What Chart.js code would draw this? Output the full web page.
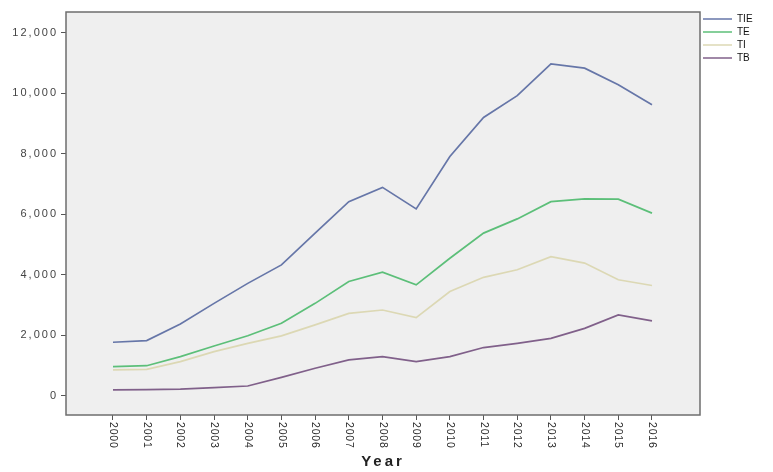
<!DOCTYPE html>
<html>
<head>
<meta charset="utf-8">
<script src="https://cdn.jsdelivr.net/npm/chart.js@4.4.1/dist/chart.umd.min.js"></script>
<style>
html,body{margin:0;padding:0;background:#ffffff;}
#wrap{width:773px;height:472px;}
</style>
</head>
<body>
<div id="wrap"><canvas id="c" width="773" height="472"></canvas></div>
<script>
// ---- data ----
const years = [2000,2001,2002,2003,2004,2005,2006,2007,2008,2009,2010,2011,2012,2013,2014,2015,2016];
const tie = [1775,1830,2380,3060,3720,4330,5380,6420,6890,6180,7910,9200,9920,10970,10830,10280,9620];
const te  = [970,1000,1300,1650,1990,2400,3060,3780,4090,3670,4550,5380,5850,6420,6510,6500,6040];
const ti  = [860,880,1135,1465,1740,1985,2350,2730,2840,2590,3450,3920,4170,4600,4390,3840,3650];
const tb  = [200,210,230,275,330,615,915,1190,1300,1135,1300,1600,1740,1905,2235,2680,2480];
const seriesNames = ['TIE','TE','TI','TB'];
const yTickValues = [0,2000,4000,6000,8000,10000,12000];

const FONT = "'Liberation Sans', Arial, sans-serif";
const colors = ['#6676a8','#5cbf79','#dcd8b4','#80608a'];

// legend width so the plot frame ends where the reference's does
const mc = document.createElement('canvas').getContext('2d');
mc.font = "10px " + FONT;
const maxText = Math.max(...seriesNames.map(t => mc.measureText(t).width));
const legendW = 3 + 29 + 5 + maxText + 10;
const padRight = Math.max(0, 73 - legendW);

// ---- custom scales (letter spacing, labels rotated clockwise) ----
class SpacedYScale extends Chart.LinearScale {
  drawLabels(area) {
    const ctx = this.ctx; ctx.save(); ctx.letterSpacing = '2px';
    super.drawLabels(area); ctx.restore();
  }
}
SpacedYScale.id = 'spacedY';

class DownXScale extends Chart.LinearScale {
  _getXAxisLabelAlignment() { return 'left'; }
  drawLabels(area) {
    const ctx = this.ctx; ctx.save(); ctx.letterSpacing = '0.8px';
    super.drawLabels(area); ctx.restore();
  }
  drawTitle() {
    const ctx = this.ctx; ctx.save(); ctx.letterSpacing = '3px';
    super.drawTitle(); ctx.restore();
  }
}
DownXScale.id = 'downX';
Chart.register(SpacedYScale, DownXScale);

const plotFrame = {
  id: 'plotFrame',
  afterLayout(chart) {
    if (chart.legend) { chart.legend.top -= 1; chart.legend.bottom -= 1; }
  },
  beforeDraw(chart) {
    const {ctx, chartArea: a} = chart;
    ctx.save();
    ctx.fillStyle = '#efefef';
    ctx.fillRect(a.left, a.top, a.right - a.left, a.bottom - a.top);
    ctx.restore();
  },
  afterDatasetsDraw(chart) {
    const {ctx, chartArea: a} = chart;
    ctx.save();
    ctx.strokeStyle = '#6e6e6e';
    ctx.lineWidth = 1.5;
    ctx.strokeRect(a.left, a.top, a.right - a.left, a.bottom - a.top);
    ctx.restore();
  }
};

const seriesValues = [tie, te, ti, tb];
const datasets = seriesNames.map((name, i) => ({
  label: name,
  data: years.map((y, j) => ({x: y, y: seriesValues[i][j]})),
  borderColor: colors[i],
  backgroundColor: colors[i],
  borderWidth: 1.7,
  pointRadius: 0,
  tension: 0,
  fill: false
}));

new Chart(document.getElementById('c'), {
  type: 'line',
  data: { datasets },
  options: {
    responsive: false,
    animation: false,
    devicePixelRatio: 1,
    layout: { padding: { left: 0, top: 12, right: padRight, bottom: 0 } },
    plugins: {
      tooltip: { enabled: false },
      legend: {
        position: 'right',
        align: 'start',
        fullSize: false,
        labels: {
          usePointStyle: true,
          pointStyle: 'line',
          pointStyleWidth: 29,
          boxHeight: 10,
          padding: 3,
          color: '#111',
          font: { family: FONT, size: 10 }
        }
      }
    },
    scales: {
      x: {
        type: 'downX',
        min: 1998.605,
        max: 2017.425,
        afterBuildTicks: s => { s.ticks = years.map(v => ({value: v})); },
        afterFit: s => { s.height = 57; },
        grid: { display: true, drawOnChartArea: false, drawTicks: true, tickLength: 5, color: '#555', lineWidth: 1 },
        border: { display: false },
        ticks: {
          minRotation: -90, maxRotation: -90, autoSkip: false, padding: 2,
          color: '#2a2a2a', font: { family: FONT, size: 10.5 },
          callback: v => String(v)
        },
        title: {
          display: true, text: 'Year', color: '#222',
          font: { family: FONT, size: 15, weight: 'bold' },
          padding: { top: 0, bottom: 1 }
        }
      },
      y: {
        type: 'spacedY',
        min: -628,
        max: 12684,
        afterBuildTicks: s => { s.ticks = yTickValues.map(v => ({value: v})); },
        afterFit: s => { s.width = 66; },
        grid: { display: true, drawOnChartArea: false, drawTicks: true, tickLength: 5, color: '#555', lineWidth: 1 },
        border: { display: false },
        ticks: {
          padding: 3, color: '#444', font: { family: FONT, size: 11 },
          callback: v => v.toLocaleString('en-US')
        }
      }
    }
  },
  plugins: [plotFrame]
});
</script>
</body>
</html>
